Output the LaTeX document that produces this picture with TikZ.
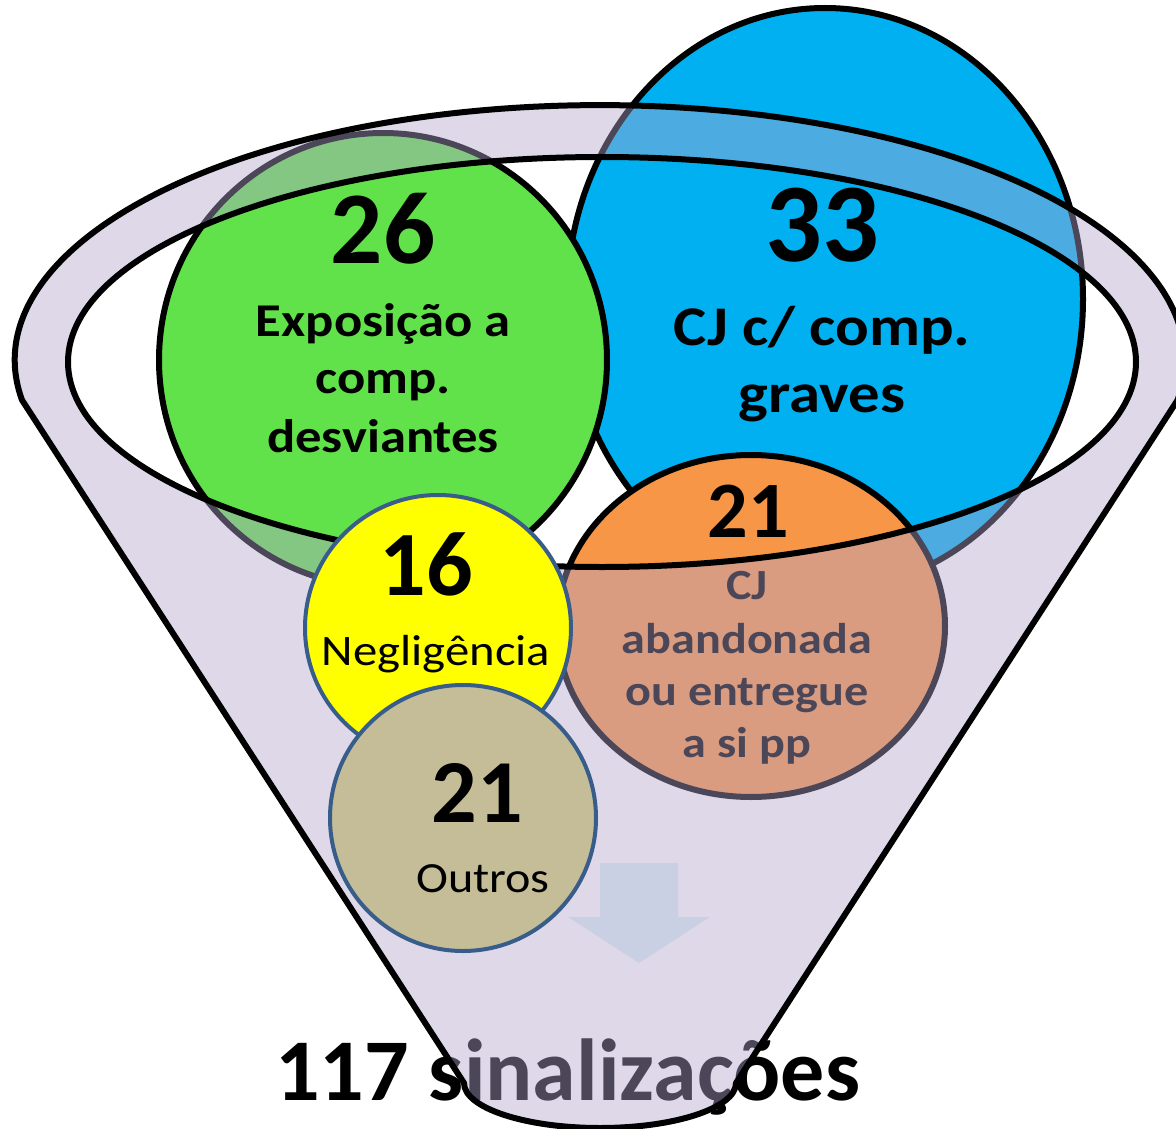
\documentclass[tikz,border=0pt]{standalone}
\usepackage{fontspec}
\setmainfont{Carlito}
\newfontfamily\lblfont{Carlito}[FakeStretch=1.12]
\definecolor{cgreen}{RGB}{98,226,74}
\definecolor{cblue}{RGB}{0,176,240}
\definecolor{corange}{RGB}{247,150,70}
\definecolor{cyellow}{RGB}{255,255,0}
\definecolor{ctan}{RGB}{196,189,151}
\definecolor{cedge}{RGB}{56,93,138}
\definecolor{cfunnel}{RGB}{178,165,205}
\definecolor{carrow}{RGB}{202,208,228}
\tikzset{
  bnum/.style={anchor=base, inner sep=0pt, font=\bfseries\fontsize{#1}{#1}\selectfont},
  btxt/.style={anchor=base, inner sep=0pt, font=\lblfont\bfseries\fontsize{#1}{#1}\selectfont},
  rtxt/.style={anchor=base, inner sep=0pt, font=\lblfont\fontsize{#1}{#1}\selectfont},
  bigcirc/.style={draw=black, line width=6pt},
  smallcirc/.style={draw=cedge, line width=4pt},
  funnelline/.style={line width=6pt, line join=round},
}
\begin{document}
\begin{tikzpicture}[x=1pt,y=-1pt]
\useasboundingbox (0,0) rectangle (1176,1129);
% title (under the funnel)
\node[bnum=88, anchor=base west] (total) at (275,1100) {117 sinalizações};
% blue
\path[bigcirc, fill=cblue] (825,299) ellipse[x radius=258, y radius=291];
\node[bnum=112] (n33) at (822,261) {33};
\node[btxt=56] (t33a) at (822,345) {CJ c/ comp.};
\node[btxt=56] (t33b) at (822,412) {graves};
% green
\path[bigcirc, fill=cgreen] (383,360) ellipse[x radius=224, y radius=227];
\node[bnum=103] (n26) at (383,263) {26};
\node[btxt=47] (t26a) at (383,336) {Exposição a};
\node[btxt=47] (t26b) at (383,393) {comp.};
\node[btxt=47] (t26c) at (383,452) {desviantes};
% orange
\path[bigcirc, fill=corange] (751,626) ellipse[x radius=194, y radius=171];
\node[bnum=80] (n21a) at (748,537) {21};
\node[btxt=43] (t21a) at (747,599) {CJ};
\node[btxt=43] (t21b) at (747,653) {abandonada};
\node[btxt=43] (t21c) at (747,705) {ou entregue};
\node[btxt=43] (t21d) at (747,757) {a si pp};
% funnel
\path[fill=cfunnel, fill opacity=0.43, even odd rule]
  (22,400) arc[start angle=171, end angle=369, x radius=585, y radius=255]
  -- (736,1083) arc[start angle=0, end angle=180, x radius=136, y radius=45] -- cycle
  (602,362) ellipse[x radius=534, y radius=205];
\draw[funnelline]
  (22,400) arc[start angle=171, end angle=369, x radius=585, y radius=255]
  -- (736,1083) arc[start angle=0, end angle=180, x radius=136, y radius=45] -- cycle;
\draw[funnelline] (602,362) ellipse[x radius=534, y radius=205];
% arrow
\fill[carrow] (600,863) -- (678,863) -- (678,917) -- (710,917) -- (639,963) -- (568,917) -- (600,917) -- cycle;
% yellow
\path[smallcirc, fill=cyellow] (438,628) circle[radius=133];
\node[bnum=92] (n16) at (426,595) {16};
\node[rtxt=43.5] (t16) at (436,665) {Negligência};
% tan
\path[smallcirc, fill=ctan] (463,818) circle[radius=133];
\node[bnum=90] (n21b) at (477,822) {21};
\node[rtxt=43] (tout) at (483,892) {Outros};
\end{tikzpicture}
\end{document}
